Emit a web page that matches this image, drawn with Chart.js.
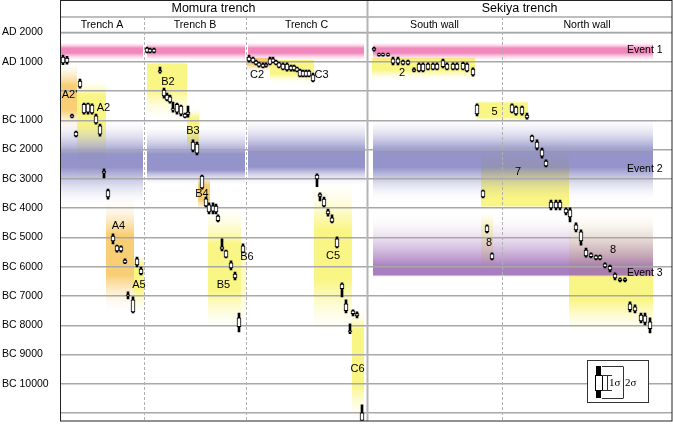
<!DOCTYPE html>
<html><head><meta charset="utf-8">
<script src="https://cdn.jsdelivr.net/npm/chart.js@4.4.1/dist/chart.umd.min.js"></script>
<style>html,body{margin:0;padding:0;background:#fff;}canvas{display:block;}</style>
</head><body>
<canvas id="c" width="673" height="446"></canvas>
<script>
// ================= DATA =================
// y values are calendar years (AD positive, BC negative); x = position across the section panel (0..612)
const yMin = -11270, yMax = 2000;
const yearTicks = [2000, 1000, 0, -1000, -2000, -3000, -4000, -5000, -6000, -7000, -8000, -9000, -10000, -11000];
const trenchNames = ['Momura trench', 'Sekiya trench'];
const trenchStart = [0, 307];
const trenchEnd = [307, 612];
const sectionNames = ['Trench A', 'Trench B', 'Trench C', 'South wall', 'North wall'];
const sectionStart = [0, 84, 186, 307, 442];
const sectionEnd = [84, 186, 307, 442, 612];

// radiocarbon samples (calibrated ranges)
const sampleX = [
  3, 7, 20, 12, 16, 24, 28, 32, 36, 40, 44, 48, 53, 57, 61, 65, 77, 81, 68, 73,
  87, 90, 94, 100, 104, 107, 110, 113, 117, 121, 125, 128, 133, 137, 142, 146, 149, 153, 156, 158, 162, 166, 171, 175, 179, 183,
  189, 193, 196, 199, 203, 206, 210, 213, 216, 219, 223, 227, 231, 234, 237, 240, 243, 246, 249, 253, 257, 260, 264, 268, 272, 277, 282, 286, 293, 297, 290, 302,
  314, 319, 323, 328, 333, 338, 343, 348, 354, 359, 363, 368, 373, 377, 383, 387, 393, 397, 403, 407, 413, 417, 423, 427, 432,
  452, 456, 462, 467, 472, 477, 482, 486, 491, 496, 500, 506, 510, 516, 521, 526, 531, 536, 540, 545, 550, 555, 560, 565, 570, 575, 581, 585, 590
];
const sigma2Low = [
  900, 920, 100, -920, -1570, -790, -790, -790, -1130, -1540, -2970, -3690, -5220, -5500, -5500, -5900, -6010, -6280, -7100, -7580,
  1300, 1300, 1300, 610, -240, -340, -410, -720, -790, -850, -920, -890, -2080, -2180, -3350, -3960, -4200, -4200, -4200, -4470, -5460, -5700, -6110, -6450, -8230, -5530,
  990, 960, 890, 820, 790, 820, 890, 960, 890, 790, 720, 680, 680, 680, 650, 480, 480, 480, 480, 310, -3270, -3750, -3960, -4270, -4500, -5360, -7030, -7580, -7680, -7750, -8290, -11250,
  1365, 1195, 1195, 1195, 890, 890, 890, 890, 650, 650, 650, 720, 720, 720, 790, 720, 720, 720, 720, 650, 510, -850, -3650, -4850, -5770,
  -750, -820, -820, -960, -1740, -2010, -2290, -2590, -4060, -4060, -4060, -4230, -4470, -4810, -5260, -5670, -5700, -5770, -5770, -6040, -6180, -6450, -6520, -6520, -7540, -7580, -7920, -7990, -8260
];
const sigma2High = [
  1230, 1190, 410, -790, -1370, -410, -410, -440, -790, -1130, -2660, -3350, -4880, -5260, -5290, -5730, -5670, -6010, -6860, -7030,
  1500, 1470, 1470, 820, 100, -70, -140, -380, -410, -480, -750, -510, -1670, -1740, -2870, -3620, -3820, -3820, -3860, -4230, -5050, -5430, -5800, -6180, -7580, -5220,
  1230, 1160, 1060, 990, 960, 960, 1160, 1160, 1060, 990, 960, 960, 890, 890, 820, 750, 720, 720, 720, 610, -2830, -3480, -3620, -4030, -4230, -4980, -6550, -7130, -7470, -7540, -7950, -10720,
  1500, 1300, 1300, 1300, 1160, 1160, 1060, 1060, 790, 960, 960, 960, 960, 960, 1090, 960, 960, 960, 990, 960, 790, -440, -3380, -4570, -5530,
  -440, -510, -510, -750, -1500, -1670, -1950, -2350, -3720, -3720, -3720, -3990, -3990, -4500, -4740, -5360, -5530, -5600, -5600, -5870, -5940, -6210, -6380, -6380, -7200, -7300, -7580, -7580, -7750
];
const sigma1Low = [
  960, 980, 140, -890, -1530, -750, -720, -750, -1090, -1470, -2800, -3620, -5120, -5460, -5460, -5870, -5940, -6240, -6990, -7540,
  1330, 1330, 1330, 650, -170, -300, -370, -650, -720, -790, -890, -800, -2020, -2120, -3310, -3920, -4130, -4100, -4130, -4430, -5400, -5670, -6040, -6380, -8050, -5500,
  1030, 990, 920, 850, 820, 850, 920, 990, 920, 820, 750, 720, 720, 720, 680, 510, 510, 510, 510, 350, -3000, -3600, -3920, -4200, -4470, -5320, -6750, -7500, -7600, -7680, -8220, -11250,
  1400, 1220, 1220, 1220, 950, 950, 920, 920, 680, 690, 690, 750, 750, 750, 830, 750, 750, 750, 750, 690, 550, -780, -3620, -4800, -5730,
  -720, -780, -780, -920, -1700, -1950, -2220, -2560, -3990, -3990, -3990, -4160, -4300, -4740, -5120, -5630, -5660, -5730, -5730, -6010, -6110, -6380, -6480, -6480, -7470, -7510, -7850, -7900, -8120
];
const sigma1High = [
  1160, 1130, 340, -820, -1400, -450, -440, -480, -850, -1190, -2740, -3400, -4950, -5290, -5320, -5770, -5730, -6080, -6960, -7130,
  1470, 1430, 1430, 700, 30, -140, -200, -600, -450, -510, -790, -720, -1740, -1810, -2900, -3680, -3890, -3920, -3930, -4270, -5320, -5460, -5870, -6250, -7750, -5290,
  1160, 1130, 1020, 960, 920, 920, 1100, 1100, 1020, 960, 920, 920, 850, 850, 790, 720, 680, 680, 680, 550, -2870, -3520, -3690, -4090, -4330, -5050, -6590, -7270, -7510, -7600, -8190, -10990,
  1470, 1270, 1270, 1270, 1100, 1100, 1020, 1020, 750, 920, 920, 920, 920, 920, 1040, 920, 920, 920, 950, 920, 750, -480, -3410, -4600, -5560,
  -470, -550, -550, -820, -1540, -1740, -2010, -2390, -3790, -3790, -3790, -4030, -4060, -4570, -4810, -5430, -5560, -5630, -5630, -5900, -5990, -6250, -6410, -6410, -7270, -7370, -7650, -7680, -7880
];

// stratigraphic unit bands
const bandLabel = ["A2'", 'A2', 'A4', 'A5', 'B2', 'B3', 'B4', 'B5', 'B6', 'C2', 'C3', 'C5', 'C6', '2', '5', '7', '8', '8'];
const bandX0 = [1, 17, 46, 74, 87, 127, 138, 148, 181, 187, 210, 254, 292, 312, 417, 421, 421, 509];
const bandX1 = [17, 46, 74, 84, 127, 139, 150, 181, 186, 210, 254, 292, 304, 415, 468, 509, 433, 593];
const bandTop = [990, 375, -3650, -5600, 990, -580, -2870, -3890, -5090, 1130, 1060, -3040, -7470, 1130, -310, -1670, -4060, -3990];
const bandBottom = [-1330, -3210, -7540, -7540, -990, -2080, -4130, -8160, -8160, 650, 270, -8330, -11260, 375, -1060, -3990, -6180, -8330];
const bandPeakTop = [200, -140, -4910, -5940, 920, -920, -3210, -5260, -5600, 1130, 1060, -4740, -8160, 1130, -410, -2700, -4570, -6380];
const bandPeakBottom = [-650, -1160, -6280, -6790, 30, -1670, -3720, -6790, -6790, 920, 580, -6450, -10030, 720, -890, -3920, -5770, -7130];
const bandTone = ['orange', 'yellow', 'orange', 'yellow', 'yellow', 'yellow', 'orange', 'yellow', 'pale', 'orange', 'yellow', 'yellow', 'yellow', 'yellow', 'yellow', 'yellow', 'pale', 'yellow'];
const bandLabelX = [9.5, 43.5, 58.5, 79, 108, 133, 142, 163.5, 187, 197, 261.5, 273, 297.5, 342, 434.5, 458, 429, 553];
const bandLabelYear = [-137, -580, -4610, -6620, 307, -1365, -3515, -6620, -5666, 546, 546, -5630, -9490, 614, -717, -2765, -5190, -5430];

// event horizons
const eventName = ['Event 1', 'Event 2', 'Event 3'];
const eventLabelX = [567, 567, 567];
const eventLabelYear = [1400, -2660, -6210];
const eventId = [0, 0, 0, 0, 1, 1, 1, 1, 2];
const eventX0 = [1, 87, 188, 313, 1, 87, 188, 313, 313];
const eventX1 = [83, 185, 304, 593, 83, 185, 305, 593, 593];
const eventTop = [1670, 1670, 1670, 1670, -990, -1160, -920, -920, -4230];
const eventBottom = [1024, 1024, 1024, 1024, -3890, -3210, -3210, -3720, -6350];
const eventPeakTop = [1468, 1468, 1468, 1468, -2150, -2150, -2050, -2050, -6000];
const eventPeakBottom = [1300, 1300, 1300, 1300, -2600, -2700, -2600, -2600, -6280];

// ================= STYLE =================
const FONT = "'Liberation Sans', Arial, sans-serif";
const toneRGB = { yellow: '249,244,115', orange: '247,196,86', pale: '249,243,130' };
const toneAlpha = { yellow: 0.88, orange: 0.82, pale: 0.45 };
const eventRGB = ['238,110,172', '118,118,188', '150,98,178'];
const eventAlpha = [0.82, 0.78, 0.82];
const GRID = '#a8a8a8';

function gradFill(ctx, chart, x0, x1, top, bottom, pTop, pBot, rgb, a) {
  const xs = chart.scales.x, ys = chart.scales.y;
  const X0 = xs.getPixelForValue(x0), X1 = xs.getPixelForValue(x1);
  const Y0 = ys.getPixelForValue(top), Y1 = ys.getPixelForValue(bottom);
  const span = top - bottom;
  const f1 = Math.max(0, Math.min(1, (top - pTop) / span));
  const f2 = Math.max(f1, Math.min(1, (top - pBot) / span));
  const g = ctx.createLinearGradient(0, Y0, 0, Y1);
  const col = (al) => 'rgba(' + rgb + ',' + al.toFixed(3) + ')';
  const N = 6;
  if (f1 <= 0.001) g.addColorStop(0, col(a));
  else for (let k = 0; k <= N; k++) { const t = k / N; g.addColorStop(f1 * t, col(a * Math.pow(t, 1.7))); }
  if (f2 >= 0.999) g.addColorStop(1, col(a));
  else for (let k = 0; k <= N; k++) { const t = k / N; g.addColorStop(f2 + (1 - f2) * t, col(a * Math.pow(1 - t, 1.7))); }
  ctx.fillStyle = g;
  ctx.fillRect(X0, Y0, X1 - X0, Y1 - Y0);
}

const bandsPlugin = {
  id: 'bands',
  beforeDraw(chart) {
    const ctx = chart.ctx;
    ctx.save();
    for (let i = 0; i < bandLabel.length; i++) {
      gradFill(ctx, chart, bandX0[i], bandX1[i], bandTop[i], bandBottom[i], bandPeakTop[i], bandPeakBottom[i], toneRGB[bandTone[i]], toneAlpha[bandTone[i]]);
    }
    for (let i = 0; i < eventId.length; i++) {
      const e = eventId[i];
      gradFill(ctx, chart, eventX0[i], eventX1[i], eventTop[i], eventBottom[i], eventPeakTop[i], eventPeakBottom[i], eventRGB[e], eventAlpha[e]);
    }
    ctx.restore();
  },
  beforeDatasetsDraw(chart) {
    const ctx = chart.ctx, xs = chart.scales.x, a = chart.chartArea;
    ctx.save();
    ctx.strokeStyle = GRID; ctx.lineWidth = 1.5;
    ctx.beginPath(); ctx.moveTo(a.left, 17); ctx.lineTo(a.right, 17); ctx.stroke();
    ctx.beginPath(); ctx.moveTo(a.left, a.top); ctx.lineTo(a.right, a.top); ctx.stroke();
    ctx.lineWidth = 1; ctx.strokeStyle = '#b0b0b0'; ctx.setLineDash([3, 2]);
    for (let i = 1; i < sectionStart.length; i++) {
      if (trenchStart.includes(sectionStart[i])) continue;
      const X = Math.round(xs.getPixelForValue(sectionStart[i])) + 0.5;
      ctx.beginPath(); ctx.moveTo(X, 17); ctx.lineTo(X, a.bottom); ctx.stroke();
    }
    ctx.setLineDash([]);
    ctx.lineWidth = 2; ctx.strokeStyle = '#b4b4b4';
    for (let i = 1; i < trenchStart.length; i++) {
      const X = xs.getPixelForValue(trenchStart[i]) + 0.5;
      ctx.beginPath(); ctx.moveTo(X, 0); ctx.lineTo(X, a.bottom); ctx.stroke();
    }
    ctx.restore();
  },
  afterDraw(chart) {
    const ctx = chart.ctx, xs = chart.scales.x, ys = chart.scales.y, a = chart.chartArea;
    ctx.save();
    ctx.fillStyle = '#000';
    ctx.textBaseline = 'middle';
    ctx.textAlign = 'center';
    ctx.font = '12.5px ' + FONT;
    for (let i = 0; i < trenchNames.length; i++) {
      ctx.fillText(trenchNames[i], (xs.getPixelForValue(trenchStart[i]) + xs.getPixelForValue(trenchEnd[i])) / 2, 9);
    }
    ctx.font = '10.6px ' + FONT;
    for (let i = 0; i < sectionNames.length; i++) {
      ctx.fillText(sectionNames[i], (xs.getPixelForValue(sectionStart[i]) + xs.getPixelForValue(sectionEnd[i])) / 2, 25);
    }
    ctx.font = '11px ' + FONT;
    for (let i = 0; i < bandLabel.length; i++) {
      ctx.fillText(bandLabel[i], xs.getPixelForValue(bandLabelX[i]), ys.getPixelForValue(bandLabelYear[i]));
    }
    ctx.textAlign = 'left';
    ctx.font = '10.5px ' + FONT;
    for (let i = 0; i < eventName.length; i++) {
      ctx.fillText(eventName[i], xs.getPixelForValue(eventLabelX[i]), ys.getPixelForValue(eventLabelYear[i]));
    }
    // legend for sigma ranges
    const L = 587.5, T = 360.5, W = 61, H = 42;
    ctx.fillStyle = '#fff'; ctx.fillRect(L, T, W, H);
    ctx.strokeStyle = '#333'; ctx.lineWidth = 1; ctx.strokeRect(L, T, W, H);
    ctx.fillStyle = '#000'; ctx.fillRect(596, 366, 5, 32);
    ctx.fillStyle = '#fff'; ctx.fillRect(595, 375, 7, 15);
    ctx.strokeStyle = '#000'; ctx.strokeRect(595.5, 375.5, 7, 15);
    ctx.strokeStyle = '#333';
    ctx.beginPath();
    ctx.moveTo(602, 375.5); ctx.lineTo(612, 375.5);
    ctx.moveTo(602, 390.5); ctx.lineTo(612, 390.5);
    ctx.moveTo(607.5, 375.5); ctx.lineTo(607.5, 390.5);
    ctx.moveTo(602, 366.5); ctx.lineTo(623, 366.5);
    ctx.moveTo(602, 398.5); ctx.lineTo(623, 398.5);
    ctx.moveTo(623.5, 366.5); ctx.lineTo(623.5, 398.5);
    ctx.stroke();
    ctx.fillStyle = '#000';
    ctx.font = "11px 'Liberation Serif', 'Times New Roman', serif";
    ctx.fillText('1σ', 609, 383.5);
    ctx.fillText('2σ', 625, 383.5);
    ctx.strokeStyle = '#222'; ctx.lineWidth = 1;
    ctx.strokeRect(a.left + 0.5, 0.5, a.right - a.left - 0.5, a.bottom - 0.5);
    ctx.restore();
  }
};

const boxData = sampleX.map((x, i) => ({ x: x, y: [sigma1Low[i], sigma1High[i]] }));
const whiskerData = sampleX.map((x, i) => ({ x: x, y: [sigma2Low[i], sigma2High[i]] }));

new Chart(document.getElementById('c'), {
  type: 'bar',
  data: {
    datasets: [
      { label: '1σ', data: boxData, order: 1, grouped: false, barThickness: 4,
        backgroundColor: '#fff', borderColor: '#000', borderWidth: 1, borderSkipped: false },
      { label: '2σ', data: whiskerData, order: 2, grouped: false, barThickness: 2,
        backgroundColor: '#000', borderWidth: 0 }
    ]
  },
  options: {
    responsive: false,
    animation: false,
    devicePixelRatio: 1,
    layout: { padding: { top: 32.5, left: 2, right: 1, bottom: 25 } },
    plugins: { legend: { display: false }, tooltip: { enabled: false } },
    scales: {
      x: { type: 'linear', min: 0, max: 612, display: false, offset: false, grid: { offset: false } },
      y: {
        type: 'linear', min: yMin, max: yMax,
        afterFit(s) { s.width = 58; },
        afterBuildTicks(s) { s.ticks = yearTicks.map(v => ({ value: v })); },
        border: { display: false },
        grid: { color: GRID, lineWidth: 1.5, drawTicks: false },
        ticks: {
          autoSkip: false, crossAlign: 'far', color: '#000',
          font: { family: FONT, size: 10.5 },
          callback(v) {
            const r = Math.round(v);
            if (r === 0 || r <= -11000) return '';
            return r > 0 ? 'AD ' + r : 'BC ' + (-r);
          }
        }
      }
    }
  },
  plugins: [bandsPlugin]
});
</script>
</body></html>
